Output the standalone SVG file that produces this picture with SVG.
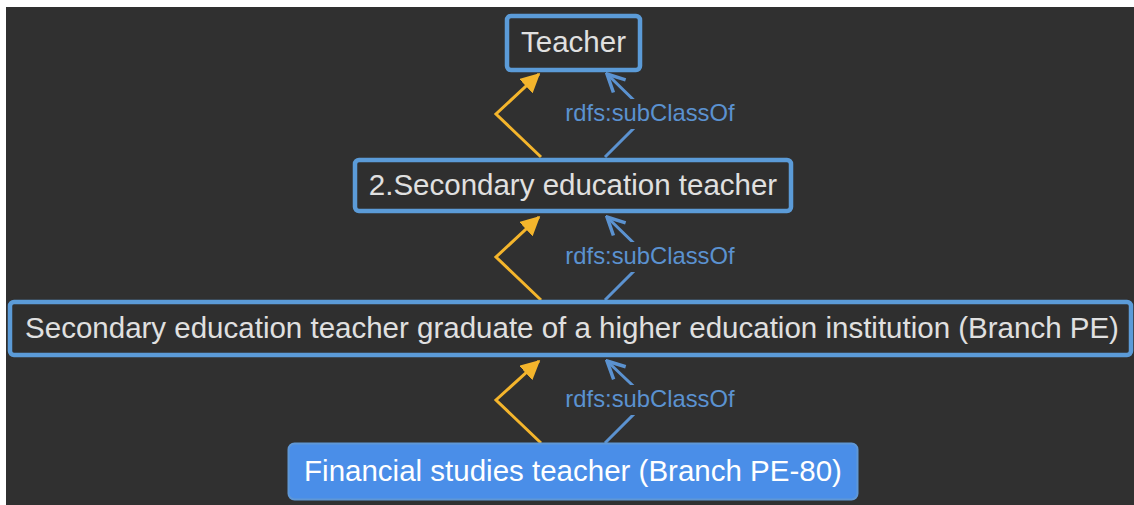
<svg xmlns="http://www.w3.org/2000/svg" width="1134" height="505" viewBox="0 0 1134 505">
<style>
.node{fill:#2f2f2f;stroke:#5b9bd8;stroke-width:4.5}
.ntext{font-family:"Liberation Sans",Arial,sans-serif;font-size:29.5px;fill:#e0e0e0;text-anchor:middle}
.lbl{font-family:"Liberation Sans",Arial,sans-serif;font-size:23.8px;fill:#5b92d0;text-anchor:middle}
.yel{fill:none;stroke:#f4b52c;stroke-width:3;stroke-linejoin:miter}
.blu{fill:none;stroke:#5b92d0;stroke-width:3}
</style>
<defs>
<marker id="ya" viewBox="0 0 12 12" refX="11" refY="6" markerWidth="6.5" markerHeight="6.5" orient="auto" markerUnits="strokeWidth">
<path d="M0,0 L12,6 L0,12 z" fill="#f4b52c"/>
</marker>
<marker id="ba" viewBox="0 0 12 12" refX="11" refY="6" markerWidth="7" markerHeight="7" orient="auto" markerUnits="strokeWidth">
<path d="M1,1 L11,6 L1,11" fill="none" stroke="#5b92d0" stroke-width="2"/>
</marker>
</defs>
<rect x="0" y="0" width="1134" height="505" fill="#ffffff"/>
<rect x="6" y="7" width="1128" height="498" fill="#303030"/>
<g id="connectors">
<polyline class="yel" points="541,157 496,114 539,74" marker-end="url(#ya)"/>
<polyline class="blu" points="605,157 648,114 607,74" marker-end="url(#ba)"/>
<rect x="560" y="99" width="180" height="30" fill="#303030"/>
<text class="lbl" x="650" y="121">rdfs:subClassOf</text>
<polyline class="yel" points="541,300 496,257 539,217" marker-end="url(#ya)"/>
<polyline class="blu" points="605,300 648,257 607,217" marker-end="url(#ba)"/>
<rect x="560" y="242" width="180" height="30" fill="#303030"/>
<text class="lbl" x="650" y="264">rdfs:subClassOf</text>
<polyline class="yel" points="541,443 496,400 539,361" marker-end="url(#ya)"/>
<polyline class="blu" points="605,443 648,400 607,361" marker-end="url(#ba)"/>
<rect x="560" y="385" width="180" height="30" fill="#303030"/>
<text class="lbl" x="650" y="407">rdfs:subClassOf</text>
</g>
<g id="n-teacher">
<rect class="node" x="507" y="16" width="133" height="54" rx="4"/>
<text class="ntext" x="573.5" y="52">Teacher</text>
</g>
<g id="n-secondary">
<rect class="node" x="355" y="160" width="436" height="51" rx="4"/>
<text class="ntext" x="573" y="195">2.Secondary education teacher</text>
</g>
<g id="n-graduate">
<rect class="node" x="10" y="302" width="1121" height="53" rx="4"/>
<text class="ntext" x="572" y="338">Secondary education teacher graduate of a higher education institution (Branch PE)</text>
</g>
<g id="n-financial">
<rect x="288.5" y="443.5" width="569" height="56" rx="6" fill="#4a8ee8" stroke="#5f97d6" stroke-width="2"/>
<text class="ntext" x="573" y="481" style="fill:#ffffff">Financial studies teacher (Branch PE-80)</text>
</g>
</svg>
